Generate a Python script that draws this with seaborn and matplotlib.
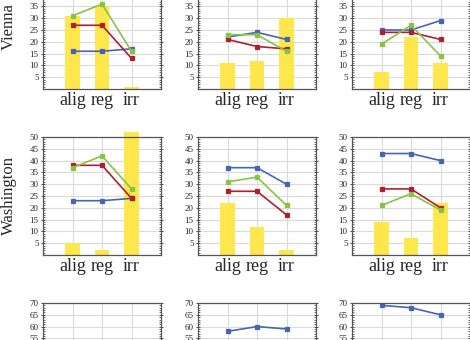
import numpy as np
import pandas as pd
import matplotlib
matplotlib.use("Agg")
import matplotlib.pyplot as plt
from matplotlib.ticker import MultipleLocator
import seaborn as sns

sns.set_theme(style="ticks")
plt.rcParams['font.family'] = ['Liberation Serif', 'DejaVu Serif']

categories = ["alig", "reg", "irr"]
row_labels = ["Vienna", "Washington"]

# bars (yellow)
bars = {
    (0, 0): [31, 35, 1],
    (0, 1): [11, 12, 30],
    (0, 2): [7, 22, 11],
    (1, 0): [5, 2, 52],
    (1, 1): [22, 12, 2],
    (1, 2): [14, 7, 22],
}
blue = {
    (0, 0): [16, 16, 17],
    (0, 1): [22, 24, 21],
    (0, 2): [25, 25, 29],
    (1, 0): [23, 23, 24],
    (1, 1): [37, 37, 30],
    (1, 2): [43, 43, 40],
    (2, 1): [58, 60, 59],
    (2, 2): [69, 68, 65],
}
red = {
    (0, 0): [27, 27, 13],
    (0, 1): [21, 18, 17],
    (0, 2): [24, 24, 21],
    (1, 0): [38, 38, 24],
    (1, 1): [27, 27, 17],
    (1, 2): [28, 28, 20],
}
green = {
    (0, 0): [31, 36, 16],
    (0, 1): [23, 23, 16],
    (0, 2): [19, 27, 14],
    (1, 0): [37, 42, 28],
    (1, 1): [31, 33, 21],
    (1, 2): [21, 26, 19],
}
row_ylim = [(0, 50), (0, 50), (20, 70)]
# y tick labels that fall inside the visible picture
row_ytick_labels = [[5, 10, 15, 20, 25, 30, 35],
                    [5, 10, 15, 20, 25, 30, 35, 40, 45, 50],
                    [55, 60, 65, 70]]

C_BAR = "#FDE74C"
C_BLUE = "#4565B5"
C_RED = "#AE2030"
C_GREEN = "#86C443"

W, H = 470, 340
fig = plt.figure(figsize=(W / 100, H / 100), dpi=100)

col_left = [43, 198, 352]
row_top = [-29, 137, 303]
aw, ah = 118, 118

for r in range(3):
    for c in range(3):
        ax = fig.add_axes([col_left[c] / W, 1 - (row_top[r] + ah) / H, aw / W, ah / H])
        key = (r, c)
        if key in bars:
            df = pd.DataFrame({"cat": categories, "val": bars[key]})
            sns.barplot(data=df, x="cat", y="val", color=C_BAR, width=0.5,
                        saturation=1, ax=ax, zorder=2)
            for p in ax.patches:
                p.set_clip_on(False)
                p.set_edgecolor("none")
        for series, col in ((blue, C_BLUE), (red, C_RED), (green, C_GREEN)):
            if key in series:
                df = pd.DataFrame({"cat": categories, "val": series[key]})
                sns.pointplot(data=df, x="cat", y="val", color=col, markers="s",
                              errorbar=None, ax=ax, markersize=3.2, linewidth=1.2,
                              order=categories)
        if key not in bars and key not in blue:
            df = pd.DataFrame({"cat": categories, "val": [np.nan] * 3})
            sns.pointplot(data=df, x="cat", y="val", ax=ax, order=categories)
        ax.set_xlim(-1, 3)
        lo, hi = row_ylim[r]
        ax.set_ylim(lo, hi)
        ax.set_xticks(range(3))
        if r < 2:
            ax.set_xticklabels(categories, fontsize=13)
        else:
            ax.set_xticklabels([])
        yt = list(range(lo + 5, hi + 1, 5))
        ax.set_yticks(yt)
        ax.set_yticklabels([str(v) if v in row_ytick_labels[r] else "" for v in yt],
                           fontsize=6.5)
        ax.yaxis.set_minor_locator(MultipleLocator(1))
        ax.set_xlabel("")
        ax.set_ylabel("")
        ax.grid(True, which="major", color="#DADADA", linewidth=0.8, zorder=0)
        ax.set_axisbelow(True)
        ax.tick_params(axis="x", length=0, pad=2)
        ax.tick_params(axis="y", which="major", direction="inout", length=3.5,
                       width=0.6, left=True, right=True, pad=1.5, color="#333333")
        ax.tick_params(axis="y", which="minor", direction="in", length=1.6,
                       width=0.5, left=True, right=True, color="#333333")
        for s in ax.spines.values():
            s.set_color("#555555")
            s.set_linewidth(0.9)
            s.set_visible(True)

label_centers = [27, 196]
for lab, yc_px in zip(row_labels, label_centers):
    fig.text(9 / W, 1 - yc_px / H, lab, rotation=90, ha="center", va="center",
             fontsize=12)

fig.savefig("out.png", dpi=100)
